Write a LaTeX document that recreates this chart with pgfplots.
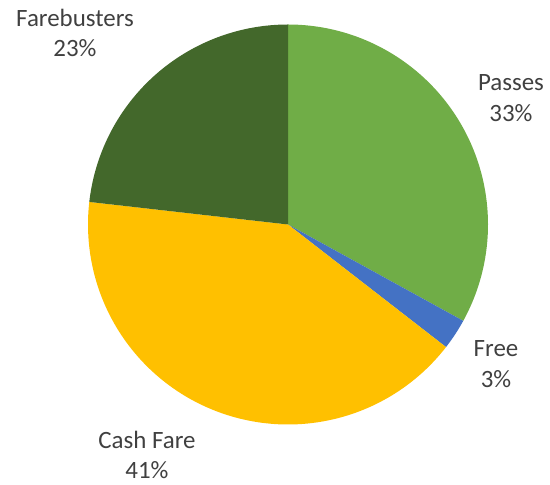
\documentclass[border=0pt]{standalone}
\usepackage{pgfplots}
\usepackage{pgfplotstable}
\pgfplotsset{compat=1.18}
\usepackage{fontspec}
\setmainfont{Carlito}
\definecolor{cpass}{HTML}{70AD47}
\definecolor{cfree}{HTML}{4472C4}
\definecolor{ccash}{HTML}{FFC000}
\definecolor{cfare}{HTML}{43682B}
\definecolor{ctext}{HTML}{404040}
\pgfplotstableread{
label value color
Passes 33.0 cpass
Free 2.5 cfree
Cash 41.3 ccash
Farebusters 23.2 cfare
}\piedata
\begin{document}
\begin{tikzpicture}
\begin{axis}[x=1bp, y=1bp, xmin=0, xmax=550, ymin=0, ymax=485,
  scale only axis, hide axis, clip=false]
\def\cum{0}
\pgfplotsforeachungrouped \i in {0,...,3}{%
  \pgfplotstablegetelem{\i}{value}\of\piedata \let\v\pgfplotsretval
  \pgfplotstablegetelem{\i}{color}\of\piedata \let\c\pgfplotsretval
  \pgfmathsetmacro\a{90-3.6*\cum}%
  \pgfmathsetmacro\b{90-3.6*(\cum+\v)}%
  \edef\temp{\noexpand\addplot[fill=\c, draw=none, domain=\b:\a, samples=120]
    ({288+200*cos(x)},{260.5+200*sin(x)}) -- (axis cs:288,260.5) -- cycle;}%
  \temp
  \pgfmathsetmacro\cum{\cum+\v}%
}
\path (axis cs:0,0) rectangle (axis cs:550,485);
\begin{scope}[every node/.style={align=center, text=ctext, font=\fontsize{25}{31}\selectfont}]
\node at (axis cs:75,452) {Farebusters\\23\%};
\node at (axis cs:511,387) {Passes\\33\%};
\node at (axis cs:496,121) {Free\\3\%};
\node at (axis cs:147,30) {Cash Fare\\41\%};
\end{scope}
\end{axis}
\end{tikzpicture}
\end{document}
